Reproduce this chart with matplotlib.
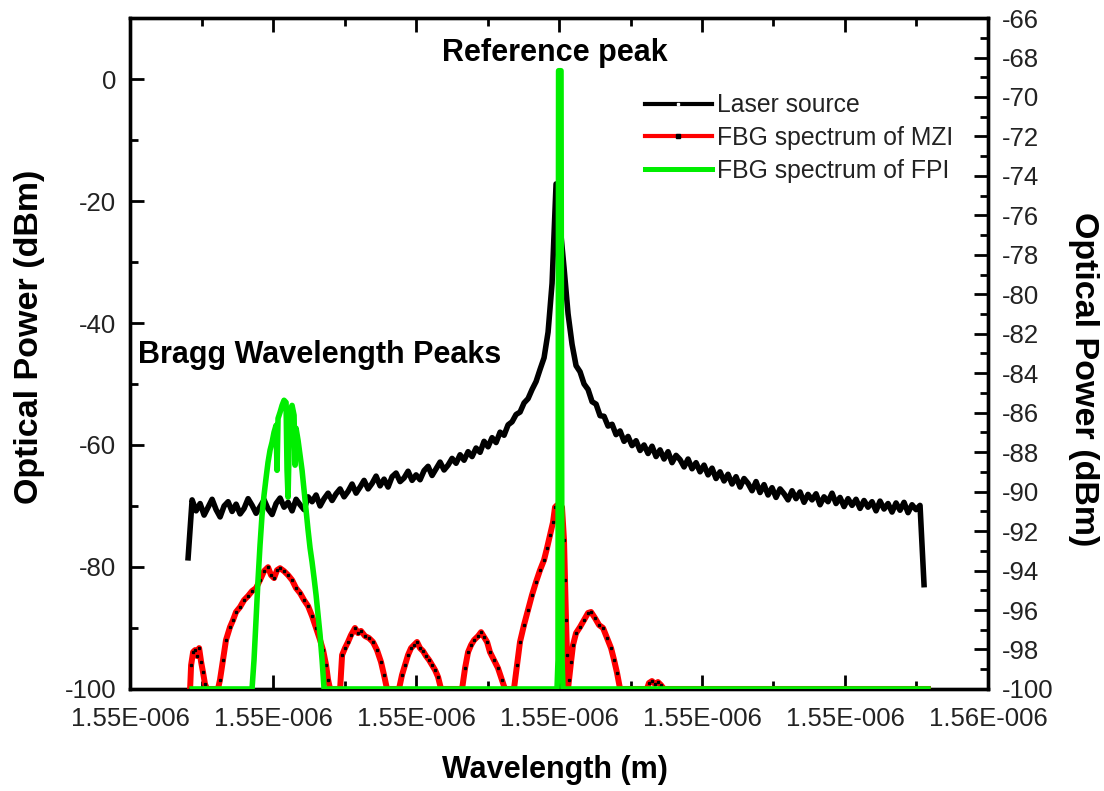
import numpy as np
import matplotlib
matplotlib.use("Agg")
import matplotlib.pyplot as plt
from matplotlib.lines import Line2D
from matplotlib.ticker import MultipleLocator, FixedLocator, FixedFormatter

plt.rcParams['font.family'] = ['Liberation Sans', 'DejaVu Sans']
plt.rcParams['axes.unicode_minus'] = False

# ---------------- data ----------------
xtick_pos_nm = [1549.5, 1550.5, 1551.5, 1552.5, 1553.5, 1554.5, 1555.5]
xtick_labels = ["1.55E-006", "1.55E-006", "1.55E-006", "1.55E-006",
                "1.55E-006", "1.55E-006", "1.56E-006"]
left_ticks = [0, -20, -40, -60, -80, -100]
right_ticks = [-100, -98, -96, -94, -92, -90, -88, -86, -84, -82, -80, -78,
               -76, -74, -72, -70, -68, -66]

# Laser source (left axis, dBm), sampled on the OSA grid
laser_start_nm = 1549.906
laser_step_nm = 0.027972
laser_dbm = [
    -78.5, -69.0, -70.8, -69.6, -71.5, -70.2, -68.9, -70.6, -71.8, -70.0,
    -69.3, -70.9, -69.7, -71.3, -70.4, -68.8, -69.9, -71.2, -70.1, -69.0,
    -70.5, -71.4, -69.6, -68.7, -70.2, -69.4, -70.8, -68.9, -69.8, -70.6,
    -68.5, -69.3, -68.2, -70.0, -68.8, -67.9, -69.1, -68.0, -67.2, -68.5,
    -67.6, -66.4, -67.9, -66.9, -65.8, -67.2, -66.3, -65.1, -66.7, -65.6,
    -66.9, -65.2, -64.6, -66.0, -65.4, -64.3, -65.8, -64.9, -65.7, -64.2,
    -63.5, -65.0, -63.9, -62.8, -64.1, -63.3, -62.2, -63.0, -61.6, -62.5,
    -61.1, -61.9, -60.5, -61.2, -59.4, -60.3, -58.8, -59.6, -57.9, -58.4,
    -56.7, -56.2, -55.0, -54.6, -53.1, -52.4, -50.9, -49.6, -47.6, -45.7,
    -41.5, -33.5, -17.2, -24.0, -31.0, -38.5, -43.5, -47.0, -48.0, -50.0,
    -50.9, -52.9, -53.3, -55.2, -55.3, -56.9, -56.6, -58.3, -57.7, -59.4,
    -58.6, -60.1, -59.3, -60.9, -60.0, -61.4, -60.2, -61.9, -60.8, -62.3,
    -61.1, -62.9, -61.7, -62.4, -63.6, -62.3, -63.9, -62.9, -64.4, -63.3,
    -64.9, -63.8, -65.5, -64.4, -65.9, -64.8, -66.4, -65.2, -66.9, -65.5,
    -66.3, -67.5, -66.0, -67.8, -66.5, -68.2, -67.0, -68.6, -67.2, -68.0,
    -69.0, -67.5, -68.8, -67.7, -69.4, -68.1, -69.0, -68.0, -69.8, -68.5,
    -69.3, -67.9, -69.6, -68.6, -70.1, -68.8, -69.9, -68.9, -70.4, -69.1,
    -70.2, -69.3, -70.8, -69.2, -70.5, -69.6, -71.0, -69.5, -70.7, -69.4,
    -71.1, -69.8, -70.6, -69.9, -82.9,
]

# FBG spectrum of MZI (right axis, dBm)
mzi_nm = [
    1549.920, 1549.927, 1549.941, 1549.955, 1549.969, 1549.983, 1549.997, 1550.010, 1550.024, 1550.038,
    1550.115,
    1550.129, 1550.150, 1550.171, 1550.199, 1550.220, 1550.241, 1550.269, 1550.297, 1550.325, 1550.353,
    1550.381, 1550.409, 1550.437, 1550.465, 1550.486, 1550.507, 1550.528, 1550.549, 1550.577, 1550.605,
    1550.633, 1550.661, 1550.689, 1550.717, 1550.745, 1550.773, 1550.801, 1550.829, 1550.850, 1550.871,
    1550.885, 1550.899,
    1550.969, 1550.983, 1551.003, 1551.024, 1551.045, 1551.073, 1551.094, 1551.115, 1551.143, 1551.171,
    1551.199, 1551.227, 1551.255, 1551.276, 1551.297,
    1551.381, 1551.402, 1551.423, 1551.444, 1551.465, 1551.486, 1551.507, 1551.528, 1551.549, 1551.570,
    1551.591, 1551.612, 1551.633, 1551.654, 1551.675,
    1551.822, 1551.843, 1551.864, 1551.885, 1551.906, 1551.934, 1551.955, 1551.976, 1551.997, 1552.017,
    1552.045, 1552.073, 1552.101, 1552.122,
    1552.185, 1552.206, 1552.227, 1552.255, 1552.283, 1552.311, 1552.339, 1552.367, 1552.395, 1552.416,
    1552.437, 1552.458, 1552.472, 1552.486, 1552.507, 1552.521, 1552.535, 1552.542, 1552.549, 1552.556,
    1552.563,
    1552.570, 1552.584, 1552.598, 1552.619, 1552.647, 1552.675, 1552.703, 1552.724, 1552.752, 1552.780,
    1552.808, 1552.836, 1552.864, 1552.885, 1552.906, 1552.927,
    1553.115, 1553.129, 1553.150, 1553.171, 1553.192, 1553.213, 1553.234,
    1555.080,
]
mzi_dbm = [
    -100.0, -98.79, -98.13, -98.03, -98.33, -97.93, -98.63, -99.14, -99.75, -100.0,
    -100.0,
    -99.54, -98.53, -97.52, -96.86, -96.51, -96.10, -95.85, -95.50, -95.29, -95.04,
    -94.89, -94.48, -94.03, -93.83, -94.23, -94.38, -93.98, -93.88, -94.03, -94.23,
    -94.48, -94.89, -95.14, -95.50, -95.80, -96.31, -96.91, -97.52, -98.03, -98.79,
    -99.54, -100.0,
    -100.0, -98.28, -97.93, -97.62, -97.27, -96.91, -97.17, -97.06, -97.32, -97.42,
    -97.62, -98.03, -98.63, -99.29, -100.0,
    -100.0, -99.29, -98.79, -98.28, -97.93, -97.77, -97.62, -97.93, -98.08, -98.33,
    -98.53, -98.79, -99.04, -99.39, -100.0,
    -100.0, -98.94, -98.13, -97.77, -97.52, -97.32, -97.12, -97.37, -97.62, -98.13,
    -98.53, -98.94, -99.54, -100.0,
    -100.0, -98.79, -97.62, -96.76, -96.00, -95.24, -94.58, -93.98, -93.47, -92.86,
    -92.21, -91.55, -90.79, -90.69, -90.69, -90.79, -92.46, -94.48, -96.51, -98.28,
    -100.0,
    -99.54, -98.63, -97.77, -97.17, -96.86, -96.51, -96.15, -96.10, -96.41, -96.76,
    -96.91, -97.42, -97.93, -98.53, -99.19, -100.0,
    -100.0, -99.70, -99.60, -99.75, -99.65, -99.80, -100.0,
    -100.0,
]

# FBG spectrum of FPI (right axis, dBm)
fpi_nm = [
    1549.934, 1550.353, 1550.367, 1550.381, 1550.395, 1550.409, 1550.423, 1550.437, 1550.451, 1550.465,
    1550.479, 1550.493, 1550.507, 1550.521, 1550.528, 1550.535, 1550.549, 1550.563, 1550.577, 1550.591,
    1550.598, 1550.605, 1550.612, 1550.619, 1550.633, 1550.647, 1550.654, 1550.661, 1550.675, 1550.689,
    1550.703, 1550.717, 1550.731, 1550.745, 1550.759, 1550.773, 1550.787, 1550.801, 1550.815, 1550.829,
    1550.843, 1550.857,
    1552.486, 1552.493, 1552.497, 1552.514, 1552.521, 1552.528, 1555.080,
]
fpi_dbm = [
    -100.0, -100.0, -98.53, -96.51, -94.48, -92.71, -91.19, -90.18, -89.32, -88.51,
    -87.90, -87.50, -86.99, -86.64, -88.92, -86.29, -85.98, -85.63, -85.37, -85.48,
    -88.92, -90.28, -87.90, -85.88, -85.63, -86.13, -88.66, -86.79, -87.40, -88.16,
    -88.92, -89.93, -90.94, -91.95, -92.86, -93.57, -94.38, -95.24, -96.26, -97.27,
    -98.53, -100.0,
    -100.0, -98.53, -68.67, -68.67, -98.53, -100.0, -100.0,
]

series_labels = ["Laser source", "FBG spectrum of MZI", "FBG spectrum of FPI"]

# ---------------- plot ----------------
fig = plt.figure(figsize=(11.04, 7.91), dpi=100)
ax = fig.add_axes([0.1178, 0.1290, 0.7771, 0.8482])
ax2 = ax.twinx()

laser_nm = laser_start_nm + laser_step_nm * np.arange(len(laser_dbm))
ax.plot(laser_nm, laser_dbm, color='black', lw=4.0, zorder=2)
ax2.plot(mzi_nm, mzi_dbm, color='red', lw=4.3, zorder=3,
         marker='s', ms=1.4, mfc='black', mec='black')
ax2.plot(fpi_nm, fpi_dbm, color='#00ee00', lw=4.0, zorder=4)

ax.set_xlim(1549.5, 1555.5)
ax.set_ylim(-100, 10)
ax2.set_ylim(-100, -66)

ax.xaxis.set_major_locator(FixedLocator(xtick_pos_nm))
ax.xaxis.set_major_formatter(FixedFormatter(xtick_labels))
ax.xaxis.set_minor_locator(MultipleLocator(0.5))
ax.yaxis.set_major_locator(FixedLocator(left_ticks))
ax.yaxis.set_minor_locator(MultipleLocator(10))
ax2.yaxis.set_major_locator(FixedLocator(right_ticks))
ax2.yaxis.set_minor_locator(MultipleLocator(1))

tick_fs = 18.5
lab_col = '#222222'
ax.tick_params(axis='x', which='both', direction='in', top=True, bottom=True,
               labelsize=tick_fs, pad=13, width=2.0, labelcolor=lab_col)
ax.tick_params(axis='y', which='both', direction='in', left=True, right=False,
               labelsize=tick_fs, pad=10, width=2.0, labelcolor=lab_col)
ax.tick_params(which='major', length=10)
ax.tick_params(which='minor', length=6)
ax2.tick_params(axis='y', which='both', direction='in', right=True, left=False,
                labelsize=tick_fs, pad=10, width=2.0, labelcolor=lab_col)
ax2.tick_params(which='major', length=10)
ax2.tick_params(which='minor', length=6)

for a in (ax, ax2):
    for s in a.spines.values():
        s.set_linewidth(2.4)

fig.text(0.5027, 0.0265, "Wavelength (m)", fontsize=22, fontweight='bold',
         ha='center', va='center')
fig.text(0.027, 0.574, "Optical Power (dBm)", rotation=90, fontsize=24.5,
         fontweight='bold', ha='center', va='center')
fig.text(0.981, 0.52, "Optical Power (dBm)", rotation=270, fontsize=24.5,
         fontweight='bold', ha='center', va='center')

fig.text(0.5027, 0.933, "Reference peak", fontsize=22, fontweight='bold',
         ha='center', va='center')
fig.text(0.2899, 0.5512, "Bragg Wavelength Peaks", fontsize=22, fontweight='bold',
         ha='center', va='center')

handles = [
    Line2D([], [], color='black', lw=3, marker='s', ms=1.5, mfc='white', mec='white'),
    Line2D([], [], color='red', lw=3, marker='s', ms=2.5, mfc='black', mec='black'),
    Line2D([], [], color='#00ee00', lw=3.6),
]
leg = ax2.legend(handles, series_labels, loc='upper left', bbox_to_anchor=(0.6002, 0.888),
                 frameon=False, fontsize=17.8, handlelength=2.7, handletextpad=0.2,
                 labelspacing=0.36, borderpad=0, borderaxespad=0)
for t in leg.get_texts():
    t.set_color(lab_col)

fig.savefig("out.png", dpi=100)
